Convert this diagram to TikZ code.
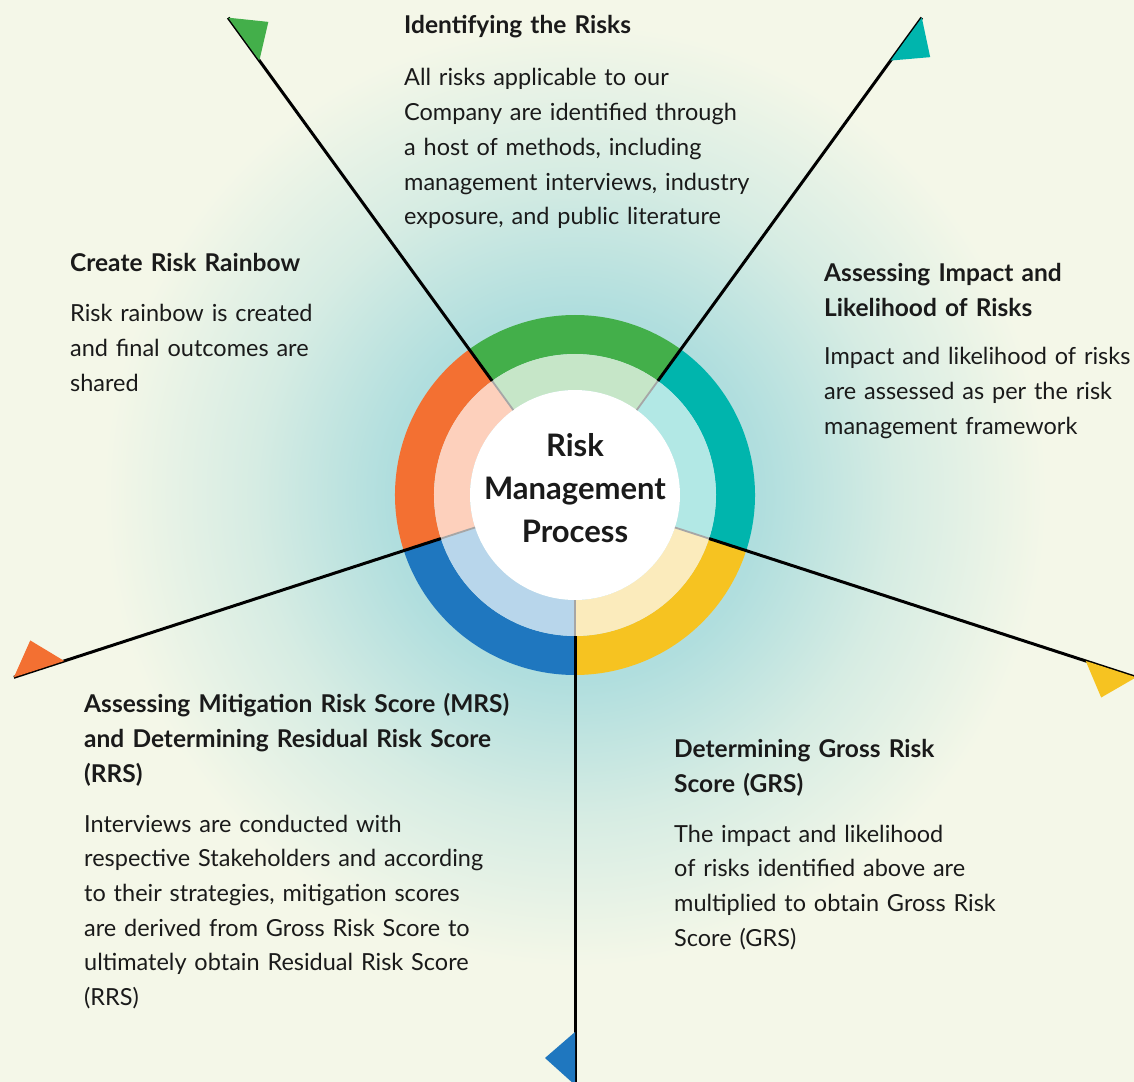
\documentclass[tikz,border=0pt]{standalone}
\usepackage{fontspec}
\setmainfont{Lato}
\usepackage{tikz}
\definecolor{cream}{RGB}{244,247,232}
\definecolor{glow}{RGB}{176,222,222}
\definecolor{glowmid}{RGB}{214,236,227}
\definecolor{ink}{RGB}{26,26,26}
\definecolor{rgreen}{RGB}{67,175,74}
\definecolor{lgreen}{RGB}{198,230,200}
\definecolor{rteal}{RGB}{0,181,173}
\definecolor{lteal}{RGB}{178,232,229}
\definecolor{ryellow}{RGB}{246,195,33}
\definecolor{lyellow}{RGB}{251,235,188}
\definecolor{rblue}{RGB}{31,119,191}
\definecolor{lblue}{RGB}{184,214,235}
\definecolor{rorange}{RGB}{243,112,50}
\definecolor{lorange}{RGB}{253,208,188}
\pgfdeclareradialshading{riskglow}{\pgfpoint{0bp}{0bp}}{color(0bp)=(glow); color(185bp)=(glow); color(320bp)=(glowmid); color(470bp)=(cream); color(1000bp)=(cream)}
\tikzset{
  headtxt/.style={anchor=base west, inner sep=0pt, align=left, text width=470, text=ink,
    font=\bfseries\fontsize{24.5}{35}\selectfont},
  bodytxt/.style={anchor=base west, inner sep=0pt, align=left, text width=470, text=ink,
    font=\fontsize{23.5}{34.7}\selectfont},
  spoke/.style={line width=3, black},
  spokegray/.style={line width=1.8, black!35}
}
\begin{document}
\begin{tikzpicture}[x=1pt, y=1pt]
  \useasboundingbox (-575, -586) rectangle (559, 495);
  \begin{scope}
    \clip (-575, -586) rectangle (559, 495);
    \pgftext[at=\pgfpoint{0pt}{0pt}]{\pgfuseshading{riskglow}}
  \end{scope}
  % ring segments, spokes and flags
  \foreach \a/\dark/\light in {54/rteal/lteal, 126/rgreen/lgreen, 198/rorange/lorange, 270/rblue/lblue, 342/ryellow/lyellow} {
    \fill[\dark] (\a-72:180pt) arc[start angle=\a-72, end angle=\a, radius=180pt]
      -- (\a:141pt) arc[start angle=\a, end angle=\a-72, radius=141pt] -- cycle;
    \fill[\light] (\a-72:141pt) arc[start angle=\a-72, end angle=\a, radius=141pt]
      -- (\a:105pt) arc[start angle=\a, end angle=\a-72, radius=105pt] -- cycle;
  }
  \node[circle, fill=white, minimum size=210pt, inner sep=0pt] (hub) at (0, 0) {};
  \foreach \a/\dark in {54/rteal, 126/rgreen, 198/rorange, 270/rblue, 342/ryellow} {
    \coordinate (in\a) at (\a:105pt);
    \coordinate (mid\a) at (\a:141pt);
    \coordinate (tip\a) at (\a:590pt);
    \draw[spokegray] (in\a) -- (mid\a);
    \draw[spoke] (mid\a) -- (tip\a);
    \fill[\dark, rotate=\a] (590, 0) -- (537, 0) -- (563, -30) -- cycle;
  }
  \node[align=center, text width=250, anchor=base, inner sep=0pt, text=ink,
    font=\bfseries\fontsize{31}{42.7}\selectfont] (rmp) at (0, 38) {Risk\\ Management\\ Process};
  % texts
  \node[headtxt] (idh) at (-171, 461) {Identifying the Risks};
  \node[bodytxt] (idb) at (-171, 409) {All risks applicable to our\\ Company are identified through\\ a host of methods, including\\ management interviews, industry\\ exposure, and public literature};
  \node[headtxt] (rbh) at (-505, 223) {Create Risk Rainbow};
  \node[bodytxt] (rbb) at (-505, 173) {Risk rainbow is created\\ and final outcomes are\\ shared};
  \node[headtxt] (imh) at (249, 213) {Assessing Impact and\\ Likelihood of Risks};
  \node[bodytxt] (imb) at (249, 130) {Impact and likelihood of risks\\ are assessed as per the risk\\ management framework};
  \node[headtxt] (mrh) at (-491, -217) {Assessing Mitigation Risk Score (MRS)\\ and Determining Residual Risk Score\\ (RRS)};
  \node[bodytxt] (mrb) at (-491, -337) {Interviews are conducted with\\ respective Stakeholders and according\\ to their strategies, mitigation scores\\ are derived from Gross Risk Score to\\ ultimately obtain Residual Risk Score\\ (RRS)};
  \node[headtxt] (grh) at (99, -262) {Determining Gross Risk\\ Score (GRS)};
  \node[bodytxt] (grb) at (99, -347) {The impact and likelihood\\ of risks identified above are\\ multiplied to obtain Gross Risk\\ Score (GRS)};
\end{tikzpicture}
\end{document}
